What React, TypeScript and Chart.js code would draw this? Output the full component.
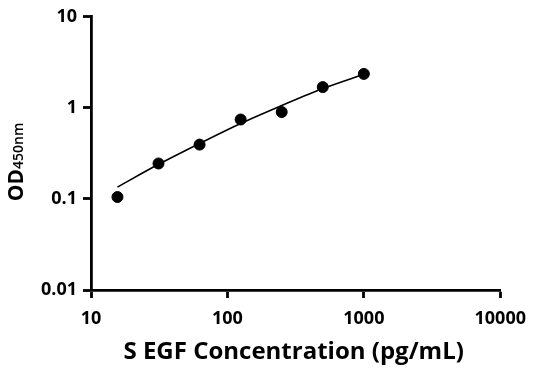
import React, { useEffect, useRef } from "react";
import { Chart, registerables } from "chart.js";

Chart.register(...registerables);

const concentrations = [15.625, 31.25, 62.5, 125, 250, 500, 1000];
const odValues = [0.105, 0.245, 0.395, 0.745, 0.9, 1.69, 2.36];
const fitValues = [0.135, 0.24, 0.407, 0.675, 1.06, 1.63, 2.34];
const xTicks = [10, 100, 1000, 10000];
const yTicks = [0.01, 0.1, 1, 10];
const xTitle = "S EGF Concentration (pg/mL)";
const yTitleMain = "OD";
const yTitleSub = "450nm";

const FONT = "'Open Sans', 'DejaVu Sans', sans-serif";

export default function App() {
  const ref = useRef<HTMLCanvasElement>(null);

  useEffect(() => {
    if (!ref.current) return;
    const titles = {
      id: "titles",
      afterDraw(chart: any) {
        const { ctx, chartArea } = chart;
        ctx.save();
        ctx.fillStyle = "#000";
        ctx.font = `bold 24px ${FONT}`;
        ctx.textAlign = "center";
        ctx.textBaseline = "alphabetic";
        ctx.fillText(xTitle, (chartArea.left + chartArea.right) / 2 - 2, 359);

        ctx.translate(23, 162);
        ctx.rotate(-Math.PI / 2);
        const mainFont = `bold 21px ${FONT}`;
        const subFont = `600 14px ${FONT}`;
        ctx.font = mainFont;
        const w1 = ctx.measureText(yTitleMain).width;
        ctx.font = subFont;
        const w2 = ctx.measureText(yTitleSub).width;
        const x0 = -(w1 + w2) / 2;
        ctx.textAlign = "left";
        ctx.font = mainFont;
        ctx.fillText(yTitleMain, x0, 0);
        ctx.font = subFont;
        ctx.fillText(yTitleSub, x0 + w1, 0);
        ctx.restore();
      },
    };

    const tickFont = { family: FONT, size: 18, weight: "bold" as const };

    const chart = new Chart(ref.current, {
      type: "line",
      data: {
        datasets: [
          {
            type: "scatter",
            data: concentrations.map((x, i) => ({ x, y: odValues[i] })),
            backgroundColor: "#000",
            borderColor: "#000",
            pointRadius: 5.5,
            pointHoverRadius: 5.5,
            order: 1,
          } as any,
          {
            type: "line",
            data: concentrations.map((x, i) => ({ x, y: fitValues[i] })),
            borderColor: "#000",
            borderWidth: 1.6,
            pointRadius: 0,
            tension: 0.3,
            fill: false,
            order: 2,
          },
        ],
      },
      options: {
        responsive: false,
        animation: false,
        layout: { padding: { top: 13.5, right: 34, left: 0, bottom: 0 } },
        plugins: {
          legend: { display: false },
          tooltip: { enabled: false },
        },
        scales: {
          x: {
            type: "logarithmic",
            min: 10,
            max: 10000,
            afterBuildTicks: (s: any) => {
              s.ticks = xTicks.map((v) => ({ value: v }));
            },
            afterFit: (s: any) => {
              s.height = 81;
            },
            ticks: {
              callback: (v: any) => String(v),
              font: tickFont,
              color: "#000",
              maxRotation: 0,
              autoSkip: false,
              padding: 10,
            },
            grid: {
              drawOnChartArea: false,
              drawTicks: true,
              tickLength: 8,
              tickWidth: 2.8,
              tickColor: "#000",
            },
            border: { display: true, color: "#000", width: 2.8 },
          },
          y: {
            type: "logarithmic",
            min: 0.01,
            max: 10,
            afterBuildTicks: (s: any) => {
              s.ticks = yTicks.map((v) => ({ value: v }));
            },
            afterFit: (s: any) => {
              s.width = 91;
            },
            ticks: {
              callback: (v: any) => String(v),
              font: tickFont,
              color: "#000",
              autoSkip: false,
              padding: 6,
            },
            grid: {
              drawOnChartArea: false,
              drawTicks: true,
              tickLength: 8,
              tickWidth: 2.8,
              tickColor: "#000",
            },
            border: { display: true, color: "#000", width: 2.8 },
          },
        },
      } as any,
      plugins: [titles],
    });
    return () => chart.destroy();
  }, []);

  return (
    <div style={{ position: "absolute", left: 0, top: 0, width: 536, height: 371, background: "#fff" }}>
      <canvas ref={ref} width={536} height={371} style={{ width: 536, height: 371 }} />
    </div>
  );
}
